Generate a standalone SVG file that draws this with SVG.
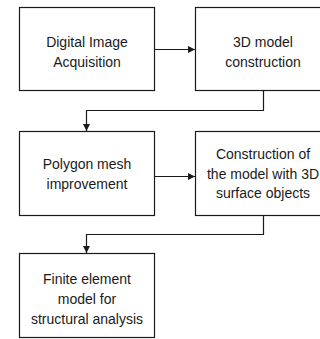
<svg xmlns="http://www.w3.org/2000/svg" width="320" height="339" viewBox="0 0 320 339">
<style>
rect{fill:#fff;stroke:#1a1a1a;stroke-width:1.2}
text{font-family:"Liberation Sans",Arial,sans-serif;font-size:14px;fill:#1a1a1a;text-anchor:middle}
.c{fill:none;stroke:#1a1a1a;stroke-width:1.2}
</style>
<defs>
<marker id="ah" viewBox="0 0 10 10" refX="10" refY="5" markerWidth="7" markerHeight="7" markerUnits="userSpaceOnUse" orient="auto">
<path d="M0,0 L10,5 L0,10 z" fill="#1a1a1a"/>
</marker>
</defs>
<rect x="0" y="0" width="320" height="339" style="fill:#fff;stroke:none"/>
<g id="n1"><rect x="19.5" y="7.5" width="135" height="83"/>
<text x="87" y="47">Digital Image</text><text x="87" y="67">Acquisition</text></g>
<g id="n2"><rect x="195.5" y="7.5" width="135" height="83"/>
<text x="263" y="47">3D model</text><text x="263" y="67">construction</text></g>
<g id="n3"><rect x="19.5" y="131.5" width="135" height="84"/>
<text x="87" y="169">Polygon mesh</text><text x="87" y="189">improvement</text></g>
<g id="n4"><rect x="195.5" y="131.5" width="135" height="84"/>
<text x="263" y="159">Construction of</text><text x="263" y="179">the model with 3D</text><text x="263" y="198">surface objects</text></g>
<g id="n5"><rect x="19.5" y="253.5" width="135" height="84"/>
<text x="87" y="284">Finite element</text><text x="87" y="304">model for</text><text x="87" y="324">structural analysis</text></g>
<g id="connectors">
<path class="c" d="M154.5,49.5 H195" marker-end="url(#ah)"/>
<path class="c" d="M263.5,90.5 V110.5 H86.5 V131" marker-end="url(#ah)"/>
<path class="c" d="M154.5,176.5 H195" marker-end="url(#ah)"/>
<path class="c" d="M263.5,215.5 V234.5 H86.5 V253" marker-end="url(#ah)"/>
</g>
</svg>
